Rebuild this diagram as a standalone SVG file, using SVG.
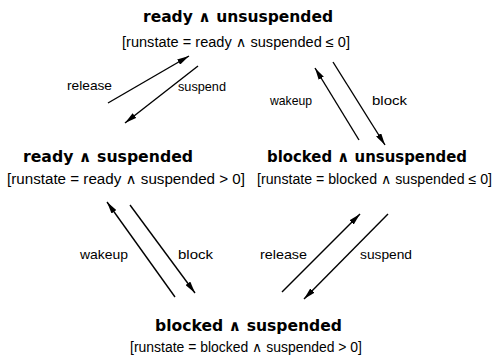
<svg xmlns="http://www.w3.org/2000/svg" width="493" height="364" viewBox="0 0 493 364">
<style>
.t{font-family:"DejaVu Sans","Liberation Sans",sans-serif;font-weight:bold;font-size:15px;fill:#000}
.c{font-family:"Liberation Sans","DejaVu Sans",sans-serif;font-size:14px;fill:#000}
.l{font-family:"Liberation Sans","DejaVu Sans",sans-serif;font-size:13px;fill:#000}
.e{stroke:#000;stroke-width:1.4;fill:none;marker-end:url(#ah)}
</style>
<defs>
<marker id="ah" viewBox="0 0 12 6" refX="12" refY="3" markerWidth="12" markerHeight="6" markerUnits="userSpaceOnUse" orient="auto">
<path d="M0,0 L12,3 L0,6 Z" fill="#000"/>
</marker>
</defs>
<rect width="493" height="364" fill="#fff"/>
<g id="ready_unsuspended">
<text class="t" x="143" y="22" textLength="190" lengthAdjust="spacingAndGlyphs">ready ∧ unsuspended</text>
<text class="c" x="122" y="47" textLength="228" lengthAdjust="spacingAndGlyphs">[runstate = ready ∧ suspended ≤ 0]</text>
</g>
<g id="ready_suspended">
<text class="t" x="23" y="162" textLength="170" lengthAdjust="spacingAndGlyphs">ready ∧ suspended</text>
<text class="c" x="7" y="184" textLength="238" lengthAdjust="spacingAndGlyphs">[runstate = ready ∧ suspended &gt; 0]</text>
</g>
<g id="blocked_unsuspended">
<text class="t" x="267" y="162" textLength="200" lengthAdjust="spacingAndGlyphs">blocked ∧ unsuspended</text>
<text class="c" x="257" y="184" textLength="235" lengthAdjust="spacingAndGlyphs">[runstate = blocked ∧ suspended ≤ 0]</text>
</g>
<g id="blocked_suspended">
<text class="t" x="155" y="331" textLength="187" lengthAdjust="spacingAndGlyphs">blocked ∧ suspended</text>
<text class="c" x="130" y="352" textLength="232" lengthAdjust="spacingAndGlyphs">[runstate = blocked ∧ suspended &gt; 0]</text>
</g>
<g id="connectors">
<line class="e" x1="108" y1="103" x2="189" y2="56"/>
<line class="e" x1="198" y1="66" x2="125" y2="123"/>
<line class="e" x1="359" y1="140" x2="315" y2="68"/>
<line class="e" x1="333" y1="62" x2="385" y2="145"/>
<line class="e" x1="175" y1="297" x2="107" y2="202"/>
<line class="e" x1="130" y1="205" x2="195" y2="293"/>
<line class="e" x1="282" y1="292" x2="360" y2="214"/>
<line class="e" x1="388" y1="214" x2="304" y2="299"/>
<text class="l" x="67" y="90" textLength="45" lengthAdjust="spacingAndGlyphs">release</text>
<text class="l" x="178" y="91" textLength="48" lengthAdjust="spacingAndGlyphs">suspend</text>
<text class="l" x="270" y="105" textLength="42" lengthAdjust="spacingAndGlyphs">wakeup</text>
<text class="l" x="372" y="105" textLength="35" lengthAdjust="spacingAndGlyphs">block</text>
<text class="l" x="80" y="259" textLength="48" lengthAdjust="spacingAndGlyphs">wakeup</text>
<text class="l" x="178" y="259" textLength="35" lengthAdjust="spacingAndGlyphs">block</text>
<text class="l" x="260" y="259" textLength="47" lengthAdjust="spacingAndGlyphs">release</text>
<text class="l" x="360" y="259" textLength="52" lengthAdjust="spacingAndGlyphs">suspend</text>
</g>
</svg>
